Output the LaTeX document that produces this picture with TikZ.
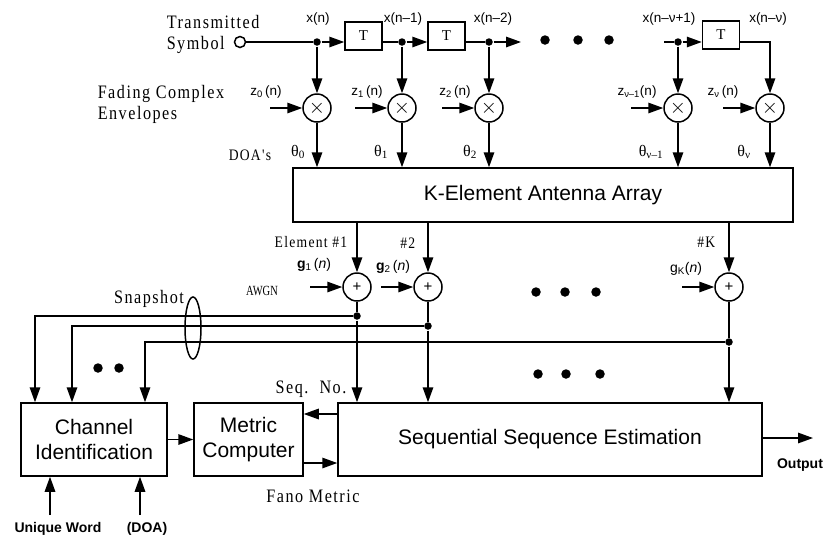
\documentclass[tikz,border=0pt]{standalone}
\usepackage{fontspec}
\setmainfont{Liberation Sans}
\newfontfamily\serl[LetterSpace=8,FakeStretch=0.85]{Liberation Serif}
\newfontfamily\serc[FakeStretch=0.75]{Liberation Serif}
\newfontfamily\serp{Liberation Serif}
\usetikzlibrary{arrows.meta,shapes.geometric}
\begin{document}
\begin{tikzpicture}[x=1pt,y=-1pt,line width=1.5pt,
  arr/.style={-{Triangle[length=15pt,width=10.5pt]}},
  blk/.style={draw,rectangle,inner sep=0pt,font=\fontsize{21}{25}\selectfont,align=center},
  tbox/.style={draw,rectangle,inner sep=0pt,minimum width=37pt,minimum height=28pt,font=\serp\fontsize{15}{16}\selectfont},
  mul/.style={draw,circle,minimum size=28pt,inner sep=0pt,font=\fontsize{20}{20}\selectfont},
  jdot/.style={circle,fill,inner sep=0pt,minimum size=7.5pt},
  bigdot/.style={circle,fill,inner sep=0pt,minimum size=9.5pt},
  slbl/.style={font=\fontsize{13.5}{15}\selectfont,inner sep=0pt},
  glbl/.style={font=\fontsize{14}{15}\selectfont,inner sep=0pt},
  rlbl/.style={font=\serl\fontsize{19}{20.5}\selectfont,inner sep=0pt,align=left},
  elbl/.style={font=\serl\fontsize{16}{17}\selectfont,inner sep=0pt},
  thlbl/.style={font=\serp\fontsize{16}{17}\selectfont,inner sep=0pt},
  blbl/.style={font=\bfseries\fontsize{14}{16}\selectfont,inner sep=0pt}]
\useasboundingbox (0,0) rectangle (825,542);

% ---------- delay line ----------
\node[draw,circle,minimum size=11pt,inner sep=0pt] (src) at (240,42) {};
\node[rlbl,anchor=north west] (tsym) at (166,15) {Transmitted\\Symbol};
\node[jdot] (j0) at (317,42) {};
\node[jdot] (j1) at (402,42) {};
\node[jdot] (j2) at (489,42) {};
\node[jdot] (jv1) at (678,42) {};
\node[tbox] (T1) at (363.5,36) {T};
\node[tbox] (T2) at (446.5,36) {T};
\node[tbox] (T3) at (721,35) {T};
\coordinate (e2) at (521,42);
\coordinate (sv) at (664,42);
\coordinate (cv) at (770,42);
\draw (src) -- (j0);
\draw[arr] (j0) -- (T1.west |- j0);
\draw (T1.east |- j1) -- (j1);
\draw[arr] (j1) -- (T2.west |- j1);
\draw (T2.east |- j2) -- (j2);
\draw[arr] (j2) -- (e2);
\draw (sv) -- (jv1);
\draw[arr] (jv1) -- (T3.west |- jv1);

\node[bigdot] (td1) at (545,40) {};
\node[bigdot] (td2) at (578,40) {};
\node[bigdot] (td3) at (609,40) {};

\node[slbl,anchor=base] (lx0) at (318,22) {x(n)};
\node[slbl,anchor=base] (lx1) at (403,22) {x(n–1)};
\node[slbl,anchor=base] (lx2) at (493,22) {x(n–2)};
\node[slbl,anchor=base] (lx3) at (669,22) {x(n–ν+1)};
\node[slbl,anchor=base] (lx4) at (768,22) {x(n–ν)};

% ---------- multipliers ----------
\node[mul] (M0) at (317,108) {$\times$};
\node[mul] (M1) at (402,108) {$\times$};
\node[mul] (M2) at (489,108) {$\times$};
\node[mul] (M4) at (678,108) {$\times$};
\node[mul] (M5) at (770,108) {$\times$};
\draw[arr] (j0) -- (M0);
\draw[arr] (j1) -- (M1);
\draw[arr] (j2) -- (M2);
\draw[arr] (jv1) -- (M4);
\draw[arr] (T3.east |- jv1) -- (cv) -- (M5);

\coordinate (zi0) at (270,108);
\coordinate (zi1) at (355,108);
\coordinate (zi2) at (442,108);
\coordinate (zi4) at (631,108);
\coordinate (zi5) at (723,108);
\draw[arr] (zi0) -- (M0);
\draw[arr] (zi1) -- (M1);
\draw[arr] (zi2) -- (M2);
\draw[arr] (zi4) -- (M4);
\draw[arr] (zi5) -- (M5);

\node[slbl,anchor=base] (lz0) at (266,95) {z\textsubscript{0}\,(n)};
\node[slbl,anchor=base] (lz1) at (367,95) {z\textsubscript{1}\,(n)};
\node[slbl,anchor=base] (lz2) at (455,95) {z\textsubscript{2}\,(n)};
\node[slbl,anchor=base] (lz4) at (637,95) {z\textsubscript{ν–1}(n)};
\node[slbl,anchor=base] (lz5) at (723,95) {z\textsubscript{ν}\,(n)};

\node[rlbl,anchor=north west] (fce) at (97,85) {Fading Complex\\Envelopes};
\node[elbl,anchor=base west] (doa) at (228,160) {DOA's};

\node[thlbl,anchor=base] (th0) at (298,156) {θ\textsubscript{0}};
\node[thlbl,anchor=base] (th1) at (381,156) {θ\textsubscript{1}};
\node[thlbl,anchor=base] (th2) at (470,156) {θ\textsubscript{2}};
\node[thlbl,anchor=base] (th4) at (651,156) {θ\textsubscript{ν–1}};
\node[thlbl,anchor=base] (th5) at (744,156) {θ\textsubscript{ν}};

% ---------- antenna array ----------
\node[blk,minimum width=500pt,minimum height=54pt] (AA) at (543,195) {K-Element Antenna Array};
\draw[arr] (M0) -- (M0 |- AA.north);
\draw[arr] (M1) -- (M1 |- AA.north);
\draw[arr] (M2) -- (M2 |- AA.north);
\draw[arr] (M4) -- (M4 |- AA.north);
\draw[arr] (M5) -- (M5 |- AA.north);

% ---------- adders ----------
\node[mul,font=\fontsize{15}{15}\selectfont] (A1) at (357,287) {+};
\node[mul,font=\fontsize{15}{15}\selectfont] (A2) at (428,287) {+};
\node[mul,font=\fontsize{15}{15}\selectfont] (AK) at (729,287) {+};
\draw[arr] (AA.south -| A1) -- (A1);
\draw[arr] (AA.south -| A2) -- (A2);
\draw[arr] (AA.south -| AK) -- (AK);

\node[elbl,anchor=base east] (el1) at (348,247) {Element \#1};
\node[elbl,anchor=base east] (el2) at (416,248) {\#2};
\node[elbl,anchor=base east] (elK) at (716,247) {\#K};

\coordinate (gi1) at (310,287);
\coordinate (gi2) at (381,287);
\coordinate (giK) at (682,287);
\draw[arr] (gi1) -- (A1);
\draw[arr] (gi2) -- (A2);
\draw[arr] (giK) -- (AK);
\node[glbl,anchor=base] (lg1) at (314,268) {\textbf{g}\textsubscript{1}\,(\textit{n})};
\node[glbl,anchor=base] (lg2) at (393,270) {\textbf{g}\textsubscript{2}\,(\textit{n})};
\node[glbl,anchor=base] (lgK) at (686,272) {g\textsubscript{K}(\textit{n})};
\node[font=\serc\fontsize{14}{15}\selectfont,inner sep=0pt,anchor=base] (awgn) at (262,295) {AWGN};

\node[bigdot] (md1) at (536,292) {};
\node[bigdot] (md2) at (565,292) {};
\node[bigdot] (md3) at (596,292) {};

% ---------- bottom blocks ----------
\node[blk,minimum width=146pt,minimum height=73pt] (CI) at (94,439.5) {Channel\\Identification};
\node[blk,minimum width=109pt,minimum height=73pt] (MC) at (248.5,439.5) {Metric\\Computer};
\node[blk,minimum width=424pt,minimum height=73pt] (SSE) at (550,439.5) {Sequential Sequence Estimation};

% ---------- snapshot taps ----------
\node[jdot] (d1) at (357,316) {};
\node[jdot] (d2) at (428,326) {};
\node[jdot] (dK) at (729,342) {};
\coordinate (c1) at (35,316);
\coordinate (c2) at (72,326);
\coordinate (cK) at (145,342);
\draw (A1) -- (d1);
\draw (A2) -- (d2);
\draw (AK) -- (dK);
\draw[arr] (d1) -- (d1 |- SSE.north);
\draw[arr] (d2) -- (d2 |- SSE.north);
\draw[arr] (dK) -- (dK |- SSE.north);
\draw[arr] (d1) -- (c1) -- (c1 |- CI.north);
\draw[arr] (d2) -- (c2) -- (c2 |- CI.north);
\draw[arr] (dK) -- (cK) -- (cK |- CI.north);

\node[draw,ellipse,minimum width=16pt,minimum height=62pt,inner sep=0pt] (snap) at (193,328) {};
\node[rlbl,anchor=base] (snapl) at (149,303) {Snapshot};

\node[bigdot] (ld1) at (98,368) {};
\node[bigdot] (ld2) at (119,368) {};
\node[bigdot] (bd1) at (538,374) {};
\node[bigdot] (bd2) at (566,374) {};
\node[bigdot] (bd3) at (600,374) {};

\node[rlbl,anchor=base] (seqno) at (311,393) {Seq.\ \ No.};
\node[rlbl,anchor=base] (fano) at (313,502) {Fano Metric};

\draw[arr] (CI.east) -- (MC.west);
\draw[arr] ([yshift=25.5pt]SSE.west) -- ([yshift=25.5pt]MC.east);
\draw[arr] ([yshift=-23.5pt]MC.east) -- ([yshift=-23.5pt]SSE.west);

\coordinate (uwa) at (50,515);
\coordinate (doaa) at (140,515);
\draw[arr] (uwa) -- (uwa |- CI.south);
\draw[arr] (doaa) -- (doaa |- CI.south);
\node[blbl,anchor=base] (uw) at (58,532) {Unique Word};
\node[blbl,anchor=base] (doal) at (147,532) {(DOA)};

\coordinate (outp) at (813,438);
\draw[arr] (SSE.east |- outp) -- (outp);
\node[blbl,anchor=base] (outl) at (800,468) {Output};
\end{tikzpicture}
\end{document}
